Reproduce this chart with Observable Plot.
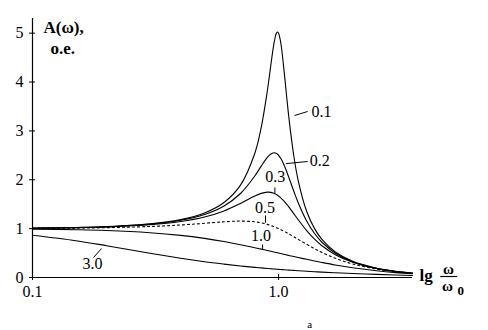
<!DOCTYPE html>
<html>
<head>
<meta charset="utf-8">
<script src="https://cdn.jsdelivr.net/npm/d3@7"></script>
<script src="https://cdn.jsdelivr.net/npm/@observablehq/plot@0.6"></script>
<style>
  html, body { margin: 0; padding: 0; background: #fff; }
  svg text { font-family: "Liberation Serif", "Times New Roman", serif; }
</style>
</head>
<body>
<div id="chart"></div>
<script>
// frequency ratio ω/ω0
const xs = [0.1,0.15,0.2,0.3,0.4,0.5,0.6,0.7,0.8,0.85,0.9,0.93,0.95,0.96,0.98,0.99,1.0,1.02,1.05,1.08,1.1,1.15,1.2,1.3,1.4,1.5,1.7,2.0,2.5,3.0,3.5];
// A(ω) for each damping value
const z01 = [1.010,1.023,1.041,1.097,1.185,1.322,1.536,1.891,2.538,3.073,3.821,4.350,4.683,4.822,5.001,5.025,5.000,4.809,4.279,3.668,3.288,2.525,1.995,1.356,1.000,0.778,0.521,0.330,0.190,0.125,0.089];
const z02 = [1.009,1.021,1.038,1.090,1.170,1.288,1.463,1.719,2.076,2.279,2.457,2.527,2.549,2.552,2.538,2.522,2.500,2.439,2.313,2.160,2.051,1.780,1.536,1.157,0.900,0.721,0.498,0.322,0.187,0.124,0.088];
const z03 = [1.008,1.019,1.034,1.078,1.145,1.238,1.362,1.514,1.667,1.722,1.747,1.742,1.729,1.720,1.697,1.683,1.667,1.630,1.567,1.495,1.444,1.313,1.185,0.960,0.784,0.649,0.466,0.310,0.183,0.122,0.087];
const z05 = [1.005,1.011,1.020,1.044,1.075,1.109,1.140,1.155,1.140,1.118,1.087,1.064,1.047,1.038,1.020,1.010,1.000,0.980,0.948,0.915,0.893,0.837,0.782,0.680,0.589,0.512,0.393,0.277,0.172,0.117,0.085];
const z10 = [0.990,0.978,0.962,0.917,0.862,0.800,0.735,0.671,0.610,0.581,0.552,0.536,0.526,0.520,0.510,0.505,0.500,0.490,0.476,0.462,0.452,0.431,0.410,0.372,0.338,0.308,0.257,0.200,0.138,0.100,0.076];
const z30 = [0.864,0.753,0.651,0.496,0.393,0.323,0.274,0.236,0.208,0.196,0.185,0.179,0.175,0.174,0.170,0.168,0.167,0.163,0.159,0.154,0.151,0.145,0.139,0.128,0.118,0.110,0.096,0.081,0.063,0.051,0.042];

const seriesNames = ["0.1","0.2","0.3","0.5","1.0","3.0"];
const seriesValues = [z01, z02, z03, z05, z10, z30];

const yTicks = [0,1,2,3,4,5];
const xTicks = [0.1, 1.0];

// curve label annotations (data coordinates)
const labelNames = ["0.1","0.2","0.3","0.5","1.0","3.0"];
const labelX = [1.36, 1.337, 0.968, 0.881, 0.849, 0.1754];
const labelY = [3.39, 2.394, 2.056, 1.422, 0.849, 0.276];
const labelAnchor = ["start","start","middle","middle","middle","middle"];
const leaderX1 = [1.161, 1.07, 0.966, 0.885, 0.861, 0.177];
const leaderY1 = [3.315, 2.33, 1.842, 1.269, 0.675, 0.409];
const leaderX2 = [1.312, 1.312, 0.966, 0.885, 0.861, 0.1908];
const leaderY2 = [3.397, 2.374, 1.719, 1.12, 0.573, 0.593];

const rows = [];
seriesNames.forEach((name, i) => {
  xs.forEach((x, j) => rows.push({zeta: name, x, a: seriesValues[i][j]}));
});
const solidRows = rows.filter(d => d.zeta !== "0.5");
const dashedRows = rows.filter(d => d.zeta === "0.5");

const labels = labelNames.map((t, i) => ({t, x: labelX[i], y: labelY[i], anchor: labelAnchor[i]}));
const leaders = labelNames.map((t, i) => ({x1: leaderX1[i], y1: leaderY1[i], x2: leaderX2[i], y2: leaderY2[i]}));

const serif = "Liberation Serif";

const chart = Plot.plot({
  width: 488,
  height: 330,
  marginLeft: 32,
  marginRight: 76,
  marginTop: 18,
  marginBottom: 53,
  style: {fontFamily: serif, fontSize: "16px", background: "#fff", color: "#000", overflow: "visible"},
  x: {type: "log", domain: [0.1, 3.5]},
  y: {domain: [0, 5.3]},
  marks: [
    Plot.ruleX([0.1], {stroke: "#000", strokeWidth: 1.2}),
    Plot.ruleY([0], {stroke: "#000", strokeWidth: 1.2}),
    Plot.axisY({ticks: yTicks, tickFormat: d => String(d), tickSize: 6, dx: 3, tickPadding: 6, label: null, fontSize: 16, fontFamily: serif}),
    Plot.axisX({ticks: xTicks, tickFormat: d => d.toFixed(1), tickSize: 6, dy: -3, tickPadding: 5, label: null, fontSize: 16, fontFamily: serif}),
    Plot.line(solidRows, {x: "x", y: "a", z: "zeta", curve: "catmull-rom", stroke: "#000", strokeWidth: 1.1}),
    Plot.line(dashedRows, {x: "x", y: "a", z: "zeta", curve: "catmull-rom", stroke: "#000", strokeWidth: 1.1, strokeDasharray: "2,3"}),
    Plot.link(leaders, {x1: "x1", y1: "y1", x2: "x2", y2: "y2", stroke: "#000", strokeWidth: 1}),
    Plot.text(labels.filter(d => d.anchor === "start"), {x: "x", y: "y", text: "t", textAnchor: "start", fontSize: 16, fontFamily: serif}),
    Plot.text(labels.filter(d => d.anchor === "middle"), {x: "x", y: "y", text: "t", textAnchor: "middle", fontSize: 16, fontFamily: serif}),
    // y axis title
    Plot.text(["A(ω),"], {frameAnchor: "top-left", textAnchor: "start", dx: 11, dy: 2, fontWeight: "bold", fontSize: 17, fontFamily: serif}),
    Plot.text(["o.e."], {frameAnchor: "top-left", textAnchor: "start", dx: 18, dy: 23, fontWeight: "bold", fontSize: 17, fontFamily: serif}),
    // x axis title: lg ω/ω0
    Plot.text(["lg"], {x: 3.5, y: 0, textAnchor: "start", dx: 7, dy: -2, fontWeight: "bold", fontSize: 17, fontFamily: serif}),
    Plot.text(["ω"], {x: 3.5, y: 0, textAnchor: "middle", dx: 36, dy: -8, fontWeight: "bold", fontSize: 15, fontFamily: serif}),
    Plot.ruleY([0], {x1: 4.556, x2: 5.341, dy: -1, stroke: "#000", strokeWidth: 1.2}),
    Plot.text(["ω"], {x: 3.5, y: 0, textAnchor: "middle", dx: 35, dy: 9, fontWeight: "bold", fontSize: 15, fontFamily: serif}),
    Plot.text(["0"], {x: 3.5, y: 0, textAnchor: "start", dx: 45, dy: 13, fontWeight: "bold", fontSize: 13, fontFamily: serif}),
    // panel letter
    Plot.text(["a"], {x: 1.337, y: 0, dy: 47, fontSize: 11, fontFamily: serif})
  ]
});
document.getElementById("chart").appendChild(chart);
</script>
</body>
</html>
